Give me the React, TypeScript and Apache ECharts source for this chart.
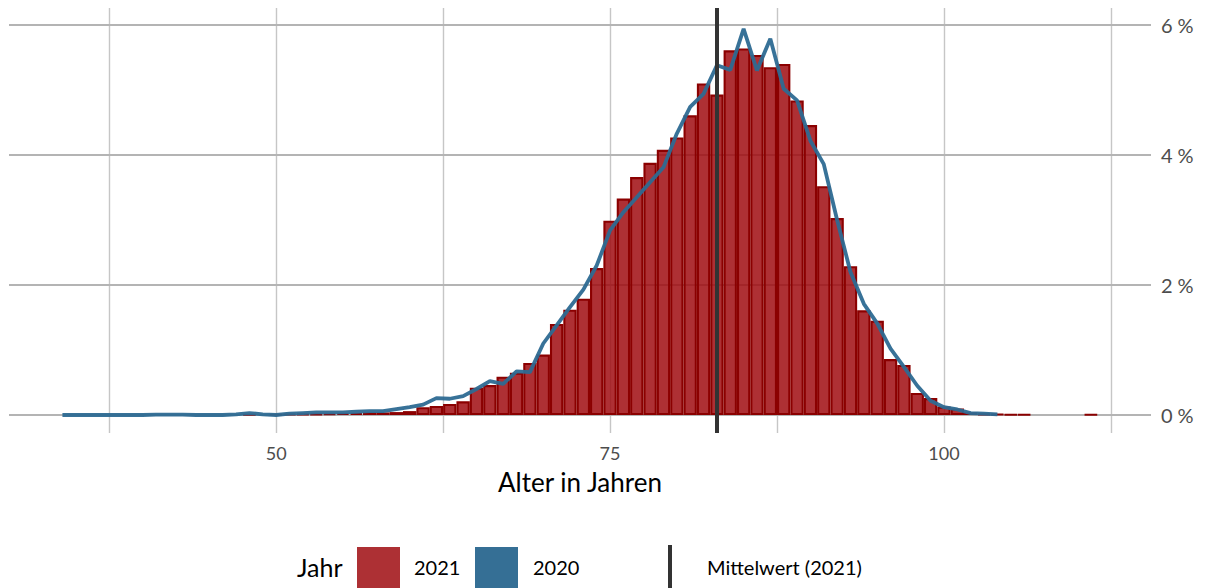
import React, { useEffect, useRef } from 'react';
import * as echarts from 'echarts';

// ---- Data ----
const ages2021 = [48, 50, 51, 52, 53, 54, 55, 56, 57, 58, 59, 60, 61, 62, 63, 64, 65, 66, 67, 68, 69, 70, 71, 72, 73, 74, 75, 76, 77, 78, 79, 80, 81, 82, 83, 84, 85, 86, 87, 88, 89, 90, 91, 92, 93, 94, 95, 96, 97, 98, 99, 100, 101, 102, 103, 104, 105, 106, 111];
const share2021 = [0.01, 0.01, 0.015, 0.02, 0.02, 0.025, 0.03, 0.03, 0.04, 0.04, 0.045, 0.06, 0.12, 0.14, 0.17, 0.21, 0.42, 0.46, 0.59, 0.65, 0.8, 0.93, 1.4, 1.62, 1.79, 2.26, 2.99, 3.33, 3.66, 3.88, 4.08, 4.27, 4.61, 5.1, 4.93, 5.61, 5.64, 5.54, 5.35, 5.4, 4.84, 4.46, 3.52, 3.03, 2.29, 1.61, 1.45, 0.86, 0.77, 0.34, 0.26, 0.13, 0.1, 0.04, 0.02, 0.015, 0.01, 0.01, 0.01];

const ages2020 = [34, 35, 36, 37, 38, 39, 40, 41, 42, 43, 44, 45, 46, 47, 48, 49, 50, 51, 52, 53, 54, 55, 56, 57, 58, 59, 60, 61, 62, 63, 64, 65, 66, 67, 68, 69, 70, 71, 72, 73, 74, 75, 76, 77, 78, 79, 80, 81, 82, 83, 84, 85, 86, 87, 88, 89, 90, 91, 92, 93, 94, 95, 96, 97, 98, 99, 100, 101, 102, 103, 104];
const share2020 = [0, 0, 0, 0, 0, 0, 0, 0.005, 0.005, 0.005, 0, 0, 0, 0.01, 0.03, 0.01, 0, 0.02, 0.03, 0.04, 0.04, 0.04, 0.05, 0.06, 0.06, 0.09, 0.12, 0.16, 0.26, 0.25, 0.29, 0.4, 0.52, 0.48, 0.67, 0.66, 1.1, 1.38, 1.66, 1.93, 2.3, 2.84, 3.12, 3.35, 3.58, 3.81, 4.33, 4.74, 4.94, 5.38, 5.31, 5.94, 5.3, 5.79, 5.02, 4.84, 4.22, 3.86, 3.0, 2.2, 1.71, 1.41, 1.02, 0.74, 0.45, 0.22, 0.12, 0.085, 0.03, 0.02, 0.01];

const meanAge2021 = 83.0;
const xLabelValues = [50, 75, 100];
const xGridValues = [37.5, 50, 62.5, 75, 87.5, 100, 112.5];
const yTickValues = [0, 2, 4, 6];
const legendTitle = 'Jahr';
const legendLabels = ['2021', '2020'];
const meanLabel = 'Mittelwert (2021)';
const xTitle = 'Alter in Jahren';

const FONT = 'Lato, "Noto Sans", sans-serif';
const RED = '#ad3034';
const BLUE = '#356f95';

export default function App() {
  const ref = useRef<HTMLDivElement>(null);

  useEffect(() => {
    if (!ref.current) return;
    const chart = echarts.init(ref.current, undefined, { renderer: 'svg' });

    const yMin = -(433 - 415) / 65;
    const yMax = 6 + (25 - 8) / 65;

    const option: any = {
      animation: false,
      grid: { left: 9, right: 54, top: 8, bottom: 155 },
      xAxis: {
        type: 'value',
        min: 30,
        max: 115.5,
        axisLine: { show: false },
        axisTick: { show: false },
        splitLine: { show: false },
        axisLabel: {
          customValues: xLabelValues,
          color: '#4d4d4d',
          fontSize: 18,
          fontFamily: FONT,
          margin: 11,
        },
        name: xTitle,
        nameLocation: 'middle',
        nameGap: 36,
        nameTextStyle: { fontSize: 26, color: '#000000', fontFamily: FONT },
      },
      yAxis: {
        type: 'value',
        position: 'right',
        min: yMin,
        max: yMax,
        axisLine: { show: false },
        axisTick: { show: false },
        splitLine: { show: false },
        axisLabel: {
          customValues: yTickValues,
          formatter: (v: number) => `${v}\u2009\u2009%`,
          color: '#4d4d4d',
          fontSize: 20,
          fontFamily: FONT,
          margin: 10,
        },
      },
      series: [
        {
          type: 'scatter',
          data: [[30, 0]],
          symbolSize: 0,
          silent: true,
          z: 0,
          markLine: {
            silent: true,
            z: 0,
            symbol: ['none', 'none'],
            label: { show: false },
            emphasis: { disabled: true },
            data: [
              ...xGridValues.map((v) => ({ xAxis: v, lineStyle: { color: '#c6c6c6', width: 1.4, type: 'solid' } })),
              ...yTickValues.map((v) => ({ yAxis: v, lineStyle: { color: '#b4b4b4', width: 2, type: 'solid' } })),
            ],
          },
        },
        {
          name: legendLabels[0],
          type: 'bar',
          data: ages2021.map((a, i) => [a, share2021[i]]),
          barWidth: 13.36,
          silent: true,
          z: 2,
          itemStyle: { color: 'rgba(160,12,16,0.85)', borderColor: '#8b0000', borderWidth: 2.1 },
        },
        {
          name: legendLabels[1],
          type: 'line',
          data: ages2020.map((a, i) => [a, share2020[i]]),
          symbol: 'none',
          silent: true,
          z: 3,
          lineStyle: { color: '#2d6a92', width: 3.8, opacity: 0.95 },
        },
        {
          type: 'scatter',
          data: [[30, 0]],
          symbolSize: 0,
          silent: true,
          z: 4,
          markLine: {
            silent: true,
            z: 4,
            symbol: ['none', 'none'],
            label: { show: false },
            emphasis: { disabled: true },
            data: [{ xAxis: meanAge2021, lineStyle: { color: '#333333', width: 4, type: 'solid' } }],
          },
        },
      ],
      graphic: [
        { type: 'text', left: 297, top: 554, style: { text: legendTitle, fontSize: 25, fontFamily: FONT, fill: '#000000' } },
        { type: 'rect', shape: { x: 357, y: 547, width: 43, height: 43 }, style: { fill: RED } },
        { type: 'text', left: 414, top: 557, style: { text: legendLabels[0], fontSize: 20, fontFamily: FONT, fill: '#000000' } },
        { type: 'rect', shape: { x: 475, y: 547, width: 43, height: 43 }, style: { fill: BLUE } },
        { type: 'text', left: 533, top: 557, style: { text: legendLabels[1], fontSize: 20, fontFamily: FONT, fill: '#000000' } },
        { type: 'line', shape: { x1: 670, y1: 545, x2: 670, y2: 590 }, style: { stroke: '#333333', lineWidth: 4 } },
        { type: 'text', left: 707, top: 557, style: { text: meanLabel, fontSize: 20, fontFamily: FONT, fill: '#000000' } },
      ],
    };

    chart.setOption(option);
    return () => chart.dispose();
  }, []);

  return (
    <div
      ref={ref}
      style={{ position: 'fixed', left: 0, top: 0, width: 1205, height: 588, background: '#ffffff' }}
    />
  );
}
